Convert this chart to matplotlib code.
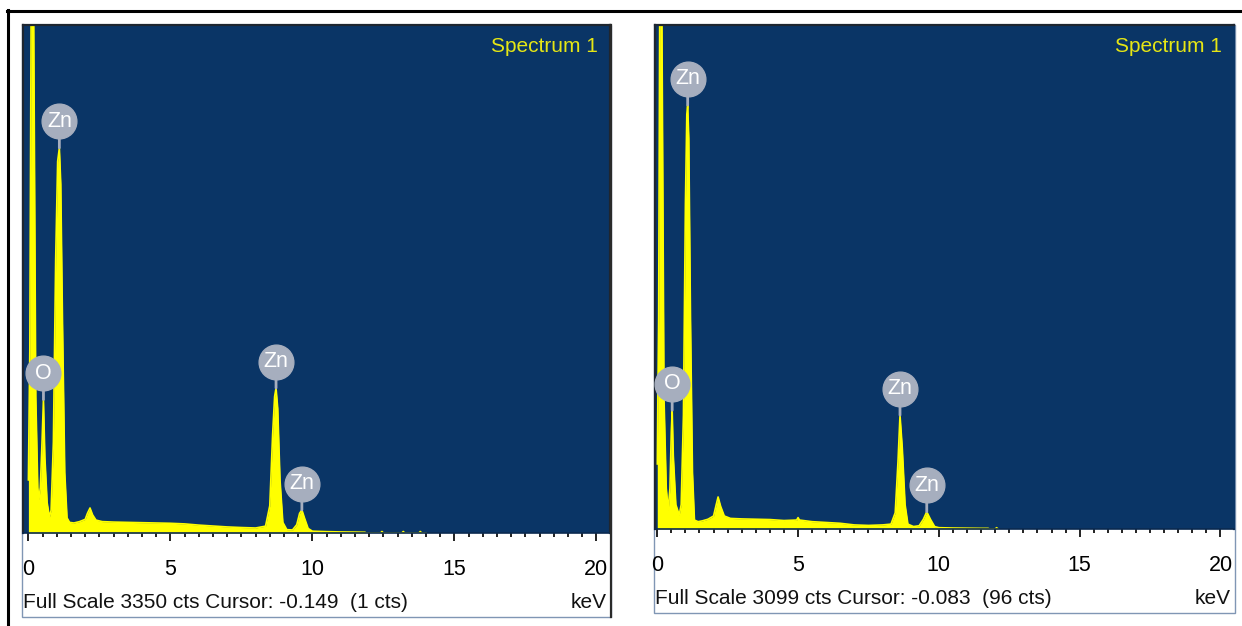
import matplotlib
matplotlib.use("Agg")
import matplotlib.pyplot as plt
from matplotlib.lines import Line2D
from matplotlib.patches import Rectangle
from matplotlib.ticker import MultipleLocator
from matplotlib.transforms import offset_copy

# ---- data ----
left_kev = [0.00, 0.05, 0.10, 0.14, 0.18, 0.26, 0.33, 0.37, 0.42, 0.48,
            0.53, 0.58, 0.66, 0.74, 0.80, 0.88, 0.96, 1.03, 1.09, 1.14,
            1.20, 1.28, 1.36, 1.45, 1.6, 1.8, 2.0, 2.08, 2.17, 2.26,
            2.38, 2.6, 3.0, 3.5, 4.0, 4.5, 5.0, 5.5, 6.0, 6.5,
            7.0, 7.5, 8.0, 8.35, 8.50, 8.60, 8.67, 8.72, 8.78, 8.86,
            8.96, 9.10, 9.30, 9.45, 9.55, 9.63, 9.72, 9.85, 10.0, 10.5,
            11.0, 11.5, 11.85, 11.9, 12.4, 12.45, 12.5, 13.15, 13.2, 13.25,
            13.75, 13.8, 13.85, 14.0]
left_cts = [350, 1200, 3600, 3600, 3600, 900, 300, 220, 300, 600,
            880, 500, 200, 105, 150, 600, 1800, 2450, 2540, 2300,
            1400, 400, 100, 70, 66, 75, 90, 130, 165, 120,
            85, 75, 72, 70, 68, 66, 64, 60, 52, 46,
            40, 36, 33, 45, 180, 650, 900, 956, 820, 350,
            70, 22, 20, 55, 130, 152, 100, 30, 12, 9,
            7, 6, 5, 0, 0, 10, 0, 0, 10, 0,
            0, 10, 0, 0]

right_kev = [0.00, 0.05, 0.09, 0.12, 0.16, 0.24, 0.32, 0.39, 0.45, 0.50,
             0.53, 0.57, 0.66, 0.78, 0.85, 0.93, 1.00, 1.05, 1.08, 1.12,
             1.18, 1.25, 1.32, 1.45, 1.6, 1.8, 2.0, 2.08, 2.16, 2.25,
             2.38, 2.6, 3.0, 3.5, 4.0, 4.5, 4.95, 5.0, 5.05, 5.5,
             6.0, 6.5, 7.0, 7.5, 8.0, 8.3, 8.45, 8.55, 8.62, 8.70,
             8.80, 8.90, 9.10, 9.30, 9.45, 9.57, 9.70, 9.85, 10.0, 10.5,
             11.0, 11.5, 11.75, 11.8, 12.0, 12.05, 12.1]
right_cts = [400, 1300, 3300, 3300, 3300, 800, 250, 117, 250, 600,
             730, 450, 150, 86, 150, 700, 2000, 2550, 2607, 2400,
             1300, 350, 55, 45, 50, 60, 80, 140, 197, 140,
             80, 65, 62, 60, 58, 52, 55, 70, 55, 45,
             40, 35, 25, 22, 25, 30, 100, 420, 700, 500,
             150, 30, 15, 20, 60, 106, 60, 15, 8, 6,
             5, 4, 4, 0, 0, 8, 0]

left_peak_kev = [0.53, 1.09, 8.72, 9.63]
left_peak_cts = [880, 2540, 956, 152]
right_peak_kev = [0.53, 1.08, 8.62, 9.57]
right_peak_cts = [730, 2607, 700, 106]
peak_names = ["O", "Zn", "Zn", "Zn"]

tick_vals = [0, 5, 10, 15, 20]
tick_labels = ["0", "5", "10", "15", "20"]

left_full_scale = 3350
right_full_scale = 3099
left_footer = "Full Scale 3350 cts Cursor: -0.149  (1 cts)"
right_footer = "Full Scale 3099 cts Cursor: -0.083  (96 cts)"
title = "Spectrum 1"

# ---- styling ----
FONT = ["Liberation Sans Narrow", "Liberation Sans", "DejaVu Sans"]
BG = "#0a3566"
YEL = "#ffff00"
LBL = "#a6aebe"
W, H = 1242, 626


def fx(px):
    return px / W


def fy(py):
    return 1 - py / H


def draw_panel(fig, box, plot, xlim, kev, cts, full, pk_kev, pk_cts, footer, right_dark=False):
    x0, y0, x1, y1 = box
    fig.add_artist(Rectangle((fx(x0), fy(y1)), fx(x1 - x0), (y1 - y0) / H,
                             transform=fig.transFigure, facecolor="white",
                             edgecolor="#8096b4", lw=1.0, zorder=0))
    px0, py0, px1, py1 = plot
    ax = fig.add_axes([fx(px0), fy(py1), fx(px1 - px0), (py1 - py0) / H])
    ax.set_facecolor(BG)
    ax.fill_between(kev, 0, cts, color=YEL, lw=0, zorder=2)
    ax.plot(kev, cts, color=YEL, lw=1.2, zorder=2)
    ax.set_xlim(*xlim)
    ax.set_ylim(0, full)
    ax.set_yticks([])
    ax.set_xticks(tick_vals)
    ax.set_xticklabels(tick_labels, family=FONT, fontsize=15.5)
    ax.xaxis.set_minor_locator(MultipleLocator(0.5))
    ax.tick_params(axis="x", which="major", direction="out", length=5.5,
                   width=1.4, color="#222222", pad=13)
    ax.tick_params(axis="x", which="minor", direction="out", length=3.2,
                   width=1.4, color="#222222")
    for side in ("top", "left"):
        ax.spines[side].set_color("#1e2630")
        ax.spines[side].set_linewidth(1.6)
    ax.spines["bottom"].set_color("#0a2a50")
    ax.spines["bottom"].set_linewidth(1.2)
    ax.spines["right"].set_color("#1e2630" if right_dark else BG)
    ax.spines["right"].set_linewidth(1.6)

    # element markers: grey disc above each peak with a short stem
    lift = offset_copy(ax.transData, fig=fig, x=0, y=19, units="points")
    for k, c, name in zip(pk_kev, pk_cts, peak_names):
        ax.annotate("", xy=(k, c), xytext=(0, 19), textcoords="offset points",
                    arrowprops=dict(arrowstyle="-", color=LBL, lw=2.0,
                                    shrinkA=0, shrinkB=0), zorder=4)
        ax.plot([k], [c], marker="o", ms=25, color=LBL, mec=LBL,
                transform=lift, zorder=5, clip_on=False)
        ax.text(k, c, name, transform=lift, ha="center", va="center",
                color="white", fontsize=15.5, family=FONT, zorder=6)

    ax.text(1 - 12 / (px1 - px0), 1 - 22 / (py1 - py0), title,
            transform=ax.transAxes, ha="right", va="center",
            color="#e6e614", fontsize=15, family=FONT, zorder=6)

    fig.text(fx(x0 + 1), fy(y1 - 14), footer, ha="left", va="center",
             fontsize=15, family=FONT, color="#111111")
    fig.text(fx(x1 - 4), fy(y1 - 14), "keV", ha="right", va="center",
             fontsize=15, family=FONT, color="#111111")
    if right_dark:
        fig.add_artist(Line2D([fx(x1)] * 2, [fy(y1), fy(y0)], color="#2a2a2a",
                              lw=1.6, transform=fig.transFigure))
    return ax


fig = plt.figure(figsize=(W / 100, H / 100), dpi=100)
fig.patch.set_facecolor("white")

# outer frame (top rule and left rule)
fig.add_artist(Line2D([fx(7), 1], [fy(11)] * 2, color="black", lw=2.2,
                      transform=fig.transFigure))
fig.add_artist(Line2D([fx(8)] * 2, [0, fy(10)], color="black", lw=2.2,
                      transform=fig.transFigure))

draw_panel(fig, (22, 25, 611, 617), (23, 25, 610, 533), (-0.19, 20.48),
           left_kev, left_cts, left_full_scale, left_peak_kev, left_peak_cts,
           left_footer, right_dark=True)
draw_panel(fig, (654, 25, 1235, 613), (655, 25, 1234, 529), (-0.08, 20.48),
           right_kev, right_cts, right_full_scale, right_peak_kev, right_peak_cts,
           right_footer)

fig.savefig("out.png", dpi=100)
